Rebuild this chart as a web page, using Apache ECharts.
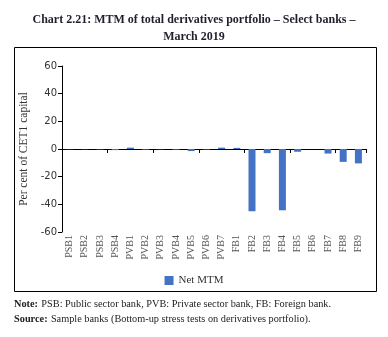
<!DOCTYPE html>
<html><head><meta charset="utf-8">
<script src="https://cdn.jsdelivr.net/npm/echarts@6/dist/echarts.min.js"></script>
<style>html,body{margin:0;padding:0;background:#fff;}#c{width:388px;height:337px;}</style>
</head><body><div id="c"></div>
<script>
const categories = ['PSB1','PSB2','PSB3','PSB4','PVB1','PVB2','PVB3','PVB4','PVB5','PVB6','PVB7','FB1','FB2','FB3','FB4','FB5','FB6','FB7','FB8','FB9'];
const netMTM = [-0.2,-0.2,-0.3,-0.8,1.0,-0.5,-0.2,-0.5,-1.5,-0.4,1.0,0.8,-45.0,-3.0,-44.3,-2.0,0.0,-3.3,-9.3,-10.4];
const yTicks = {min:-60, max:60, interval:20};
const titleLines = ['Chart 2.21: MTM of total derivatives portfolio – Select banks –','March 2019'];
const seriesName = 'Net MTM';
const yName = 'Per cent of CET1 capital';

const chart = echarts.init(document.getElementById('c'), null, {renderer:'canvas'});
const serif = '"Liberation Serif", "DejaVu Serif", serif';
chart.setOption({
  animation:false,
  backgroundColor:'#fff',
  title:{text:titleLines.join('\n'), left:'center', top:6,
    textStyle:{fontFamily:serif, fontWeight:'bold', fontSize:12, color:'#1f1f2e', lineHeight:17}},
  grid:{left:62, right:22, top:66, bottom:105, containLabel:false},
  legend:{data:[seriesName], bottom:46, left:'center', itemWidth:9, itemHeight:9, icon:'rect',
    textStyle:{fontFamily:serif, fontSize:11, color:'#333'}},
  xAxis:[
    {type:'category', data:categories, position:'bottom',
     axisLine:{show:false, onZero:false}, axisTick:{show:false},
     axisLabel:{rotate:90, fontFamily:serif, fontSize:10, color:'#555', margin:3, interval:0}},
    {type:'category', data:categories, position:'bottom',
     axisLine:{show:true, onZero:true, lineStyle:{color:'#000', width:1}},
     axisTick:{show:true, length:4, lineStyle:{color:'#000'}},
     axisLabel:{show:false}}
  ],
  yAxis:{type:'value', min:yTicks.min, max:yTicks.max, interval:yTicks.interval,
    name:yName, nameLocation:'middle', nameGap:20, nameRotate:90,
    nameTextStyle:{fontFamily:serif, fontSize:11.5, color:'#333', verticalAlign:'middle'},
    axisLine:{show:true, lineStyle:{color:'#000'}}, axisTick:{show:true, length:4, lineStyle:{color:'#000'}},
    splitLine:{show:false},
    axisLabel:{fontFamily:'"DejaVu Sans", sans-serif', fontSize:10, color:'#333', margin:5}},
  series:[{name:seriesName, type:'bar', xAxisIndex:1, data:netMTM, barWidth:'46%', itemStyle:{color:'#4472C4'}}],
  graphic:[
    {type:'rect', shape:{x:14.5, y:47.5, width:362, height:244}, style:{fill:null, stroke:'#000', lineWidth:1}, z:-1},
    {type:'text', left:14, top:298, style:{rich:{b:{fontWeight:'bold', fontFamily:serif, fontSize:10.3, fill:'#222'}, n:{fontFamily:serif, fontSize:10.3, fill:'#222'}},
      text:'{b|Note:} {n|PSB: Public sector bank, PVB: Private sector bank, FB: Foreign bank.}'}},
    {type:'text', left:14, top:313, style:{rich:{b:{fontWeight:'bold', fontFamily:serif, fontSize:10.3, fill:'#222'}, n:{fontFamily:serif, fontSize:10.3, fill:'#222'}},
      text:'{b|Source:} {n|Sample banks (Bottom-up stress tests on derivatives portfolio).}'}}
  ]
});
</script></body></html>
